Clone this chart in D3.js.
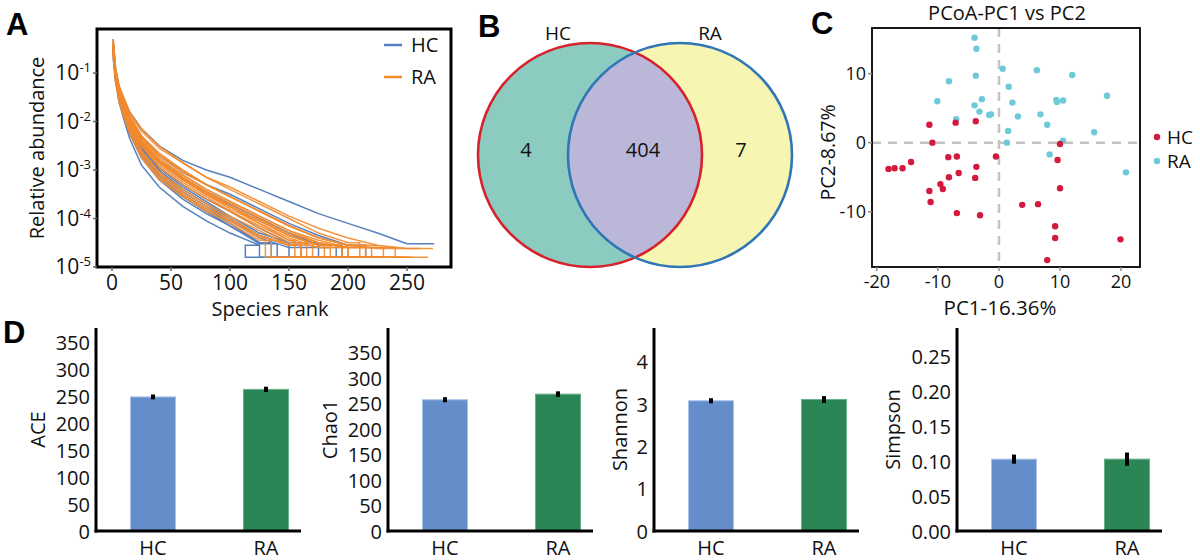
<!DOCTYPE html>
<html>
<head>
<meta charset="utf-8">
<script src="https://cdn.jsdelivr.net/npm/d3@7"></script>
<style>
  body { margin: 0; background: #fff; }
  text { font-family: "Open Sans", sans-serif; fill: #111; }
  .plabel { font-family: "Liberation Sans", Arial, sans-serif; font-weight: bold; font-size: 31px; fill: #000; }
</style>
</head>
<body>
<svg id="fig" width="1200" height="560"></svg>
<script>
// ---- A: rank abundance
// log10 relative abundance at each rank of rankGrid; then flat to the drop rank,
// down to the floor level and flat to the end rank
const rankGrid = [1, 3, 6, 10, 15, 25, 40, 60, 80, 100, 125, 150, 175, 200, 225, 250];
const floorLog = -4.8;
const hcCurves = [
  [-0.45, -1.0, -1.3, -1.55, -1.8, -2.15, -2.5, -2.8, -3.0, -3.15, -3.4, -3.65, -3.9, -4.1, -4.3, -4.52],
  [-0.5, -1.15, -1.6, -1.95, -2.35, -2.9, -3.35, -3.75, -4.05, -4.3, -4.55],
  [-0.4, -1.1, -1.5, -1.85, -2.25, -2.75, -3.2, -3.6, -3.9, -4.15, -4.5],
  [-0.55, -1.05, -1.4, -1.7, -2.0, -2.4, -2.8, -3.15, -3.45, -3.7, -4.0, -4.3, -4.55],
  [-0.6, -1.1, -1.45, -1.75, -2.1, -2.55, -3.0, -3.4, -3.7, -4.0, -4.35, -4.55],
  [-0.3, -0.9, -1.3, -1.6, -1.9, -2.3, -2.7, -3.05, -3.3, -3.5, -3.8, -4.1, -4.35, -4.55],
  [-0.5, -1.0, -1.35, -1.7, -2.05, -2.5, -2.95, -3.35, -3.65, -3.95, -4.3, -4.5],
  [-0.45, -1.1, -1.5, -1.85, -2.2, -2.7, -3.15, -3.55, -3.85, -4.15, -4.52],
  [-0.7, -1.15, -1.5, -1.8, -2.1, -2.55, -2.95, -3.3, -3.6, -3.85, -4.2, -4.5],
  [-0.4, -0.95, -1.35, -1.7, -2.05, -2.6, -3.05, -3.45, -3.75, -4.05, -4.4, -4.6],
  [-0.55, -1.1, -1.5, -1.85, -2.2, -2.65, -3.1, -3.5, -3.8, -4.1, -4.5],
  [-0.5, -1.0, -1.4, -1.7, -2.0, -2.45, -2.85, -3.2, -3.45, -3.7, -4.0, -4.3, -4.55]
];
const hcDrops = [273, 113, 135, 190, 160, 215, 150, 140, 175, 185, 125, 195];
const hcEnds = [273, 195, 170, 225, 200, 230, 205, 150, 190, 185, 135, 225];
const raCurves = [
  [-0.3, -0.95, -1.3, -1.55, -1.85, -2.2, -2.55, -2.85, -3.15, -3.35, -3.65, -3.95, -4.2, -4.4, -4.55, -4.62],
  [-0.45, -1.0, -1.35, -1.65, -1.95, -2.35, -2.75, -3.1, -3.4, -3.65, -3.95, -4.25, -4.45, -4.6],
  [-0.5, -1.05, -1.4, -1.7, -2.05, -2.5, -2.95, -3.3, -3.6, -3.85, -4.15, -4.45, -4.6],
  [-0.4, -0.9, -1.25, -1.5, -1.8, -2.15, -2.5, -2.85, -3.15, -3.4, -3.7, -4.0, -4.3, -4.5],
  [-0.55, -1.1, -1.5, -1.8, -2.15, -2.65, -3.1, -3.5, -3.8, -4.05, -4.35, -4.55],
  [-0.6, -1.05, -1.4, -1.7, -2.0, -2.45, -2.85, -3.2, -3.5, -3.75, -4.05, -4.35, -4.55],
  [-0.35, -1.0, -1.35, -1.65, -1.95, -2.35, -2.7, -3.05, -3.3, -3.55, -3.85, -4.15, -4.4, -4.55],
  [-0.5, -1.0, -1.4, -1.75, -2.1, -2.6, -3.05, -3.4, -3.7, -3.95, -4.25, -4.55],
  [-0.45, -1.1, -1.45, -1.75, -2.05, -2.5, -2.85, -3.2, -3.5, -3.75, -4.05, -4.35, -4.55],
  [-0.4, -0.95, -1.3, -1.6, -1.9, -2.3, -2.7, -3.0, -3.3, -3.55, -3.85, -4.15, -4.4, -4.55],
  [-0.65, -1.2, -1.6, -1.9, -2.25, -2.75, -3.2, -3.55, -3.85, -4.1, -4.45],
  [-0.5, -1.05, -1.4, -1.7, -2.05, -2.5, -2.9, -3.25, -3.55, -3.85, -4.2, -4.5],
  [-0.55, -1.0, -1.35, -1.65, -1.95, -2.4, -2.8, -3.15, -3.45, -3.7, -4.0, -4.3, -4.5, -4.6],
  [-0.3, -0.9, -1.3, -1.6, -1.95, -2.4, -2.8, -3.15, -3.5, -3.8, -4.1, -4.45],
  [-0.45, -1.05, -1.5, -1.85, -2.2, -2.7, -3.15, -3.5, -3.8, -4.05, -4.4],
  [-0.5, -1.0, -1.35, -1.65, -2.0, -2.45, -2.85, -3.2, -3.5, -3.75, -4.05, -4.35, -4.55],
  [-0.4, -1.0, -1.4, -1.7, -2.0, -2.45, -2.8, -3.15, -3.45, -3.75, -4.1, -4.4, -4.6],
  [-0.6, -1.1, -1.45, -1.75, -2.1, -2.6, -3.05, -3.45, -3.75, -4.0, -4.35, -4.55],
  [-0.35, -0.95, -1.3, -1.6, -1.9, -2.3, -2.65, -3.0, -3.3, -3.55, -3.85, -4.15, -4.4, -4.55, -4.62],
  [-0.5, -1.05, -1.4, -1.7, -2.0, -2.4, -2.8, -3.1, -3.4, -3.65, -3.95, -4.25, -4.5, -4.6]
];
const raDrops = [272, 240, 200, 210, 165, 195, 215, 160, 185, 225, 135, 170, 230, 155, 130, 180, 200, 160, 260, 220];
const raEnds = [272, 268, 245, 230, 228, 225, 245, 210, 200, 225, 185, 235, 250, 220, 175, 195, 240, 165, 260, 255];
const rankTicks = [0, 50, 100, 150, 200, 250];
const abundTicks = [-1, -2, -3, -4, -5];

// ---- B: Venn
const vennSets = ["HC", "RA"];
const vennCounts = [4, 404, 7]; // HC only, shared, RA only

// ---- C: PCoA
const hcPC1 = [-11.4, -7.1, -3.8, -10.9, -0.5, -8.3, -6.9, -3.7, -18.1, -17.1, -15.8, -14.4, -8.2, -6.6, -3.9, -9.6, -9.2, -11.4, -11.2, -6.9, -3.1, 3.8, 6.4, 10.0, 9.6, 10.0, 9.2, 9.2, 7.9, 19.9];
const hcPC2 = [2.6, 2.9, 3.1, 0.0, -2.0, -2.1, -2.0, -3.5, -3.8, -3.7, -3.7, -2.8, -5.0, -4.4, -5.1, -6.0, -6.7, -7.0, -8.6, -10.2, -10.5, -9.0, -8.9, -0.2, -2.5, -6.6, -12.1, -13.8, -17.0, -14.0];
const raPC1 = [-4.0, -3.7, -3.8, -8.2, -10.1, -2.8, -4.0, -3.2, -7.0, -1.6, -1.3, 0.6, 1.6, 2.2, 3.1, 1.5, 1.3, 6.2, 12.0, 6.8, 7.9, 9.4, 9.5, 10.5, 17.7, 15.6, 10.5, 8.3, 20.8];
const raPC2 = [15.2, 13.6, 9.7, 8.9, 6.0, 6.3, 5.4, 4.5, 3.4, 4.0, 4.1, 10.7, 8.1, 5.8, 3.8, 1.7, 0.0, 10.5, 9.8, 4.1, 2.6, 6.2, 5.9, 6.1, 6.8, 1.5, 0.3, -1.7, -4.3];
const pcTicks = [-20, -10, 0, 10, 20];
const pc2Ticks = [-10, 0, 10];

// ---- D: alpha diversity
const groups = ["HC", "RA"];
const alphaNames = ["ACE", "Chao1", "Shannon", "Simpson"];
const alphaMeans = [[249, 263], [258, 269], [3.08, 3.11], [0.103, 0.103]];
const alphaErrs = [[4.5, 5], [5, 5.5], [0.06, 0.08], [0.0065, 0.0095]];
const alphaMax = [377, 399, 4.8, 0.291];
const alphaTicks = [
  [0, 50, 100, 150, 200, 250, 300, 350],
  [0, 50, 100, 150, 200, 250, 300, 350],
  [0, 1, 2, 3, 4],
  [0, 0.05, 0.10, 0.15, 0.20, 0.25]
];

const blue = "#5580bf", orange = "#f38a2c";
const svg = d3.select("#fig");

// ================= Panel A =================
(function () {
  const L = 97, R = 451, T = 29, B = 267;
  const x = d3.scaleLinear().domain([-12.7, 287.3]).range([L, R]);
  const y = d3.scaleLog().domain([1e-5, 0.81]).range([B, T]);
  const g = svg.append("g");
  g.append("clipPath").attr("id", "clipA").append("rect")
    .attr("x", L).attr("y", T).attr("width", R - L).attr("height", B - T);

  const line = d3.line().x(d => x(d[0])).y(d => y(Math.pow(10, d[1])));
  const pts = (vals, drop, end) => {
    const p = vals.map((v, i) => [rankGrid[i], v]);
    const last = vals[vals.length - 1];
    p.push([drop, last]);
    if (end > drop) { p.push([drop, floorLog]); p.push([end, floorLog]); }
    return p;
  };
  const curves = g.append("g").attr("clip-path", "url(#clipA)");
  curves.selectAll("path.hc").data(hcCurves).enter().append("path")
    .attr("class", "hc").attr("d", (d, i) => line(pts(d, hcDrops[i], hcEnds[i])))
    .attr("fill", "none").attr("stroke", blue).attr("stroke-width", 1.5);
  curves.selectAll("path.ra").data(raCurves).enter().append("path")
    .attr("class", "ra").attr("d", (d, i) => line(pts(d, raDrops[i], raEnds[i])))
    .attr("fill", "none").attr("stroke", orange).attr("stroke-width", 1.5).attr("stroke-opacity", 0.9);

  // frame
  g.append("rect").attr("x", L).attr("y", T).attr("width", R - L).attr("height", B - T)
    .attr("fill", "none").attr("stroke", "#000").attr("stroke-width", 3);

  // y ticks
  const yt = g.selectAll("g.yt").data(abundTicks).enter().append("g").attr("class", "yt");
  yt.append("line").attr("x1", L - 4).attr("x2", L).attr("y1", d => y(Math.pow(10, d))).attr("y2", d => y(Math.pow(10, d)))
    .attr("stroke", "#666").attr("stroke-width", 1.5);
  const lab = yt.append("text").attr("text-anchor", "end")
    .attr("x", L - 6).attr("y", d => y(Math.pow(10, d)) + 7).style("font-size", "21px");
  lab.append("tspan").text("10");
  lab.append("tspan").attr("dy", -8).style("font-size", "13px").text(d => "-" + Math.abs(d));

  // x ticks
  const xt = g.selectAll("g.xt").data(rankTicks).enter().append("g").attr("class", "xt");
  xt.append("line").attr("x1", d => x(d)).attr("x2", d => x(d)).attr("y1", B).attr("y2", B + 4)
    .attr("stroke", "#666").attr("stroke-width", 1.5);
  xt.append("text").attr("text-anchor", "middle").attr("x", d => x(d)).attr("y", B + 23)
    .style("font-size", "21px").text(d => d);

  g.append("text").attr("text-anchor", "middle").attr("x", (L + R) / 2 - 4).attr("y", 316)
    .style("font-size", "20px").text("Species rank");
  g.append("text").attr("text-anchor", "middle")
    .attr("transform", `translate(44,${(T + B) / 2}) rotate(-90)`)
    .style("font-size", "20px").text("Relative abundance");

  // legend
  const leg = g.selectAll("g.leg").data([["HC", blue], ["RA", orange]]).enter().append("g")
    .attr("transform", (d, i) => `translate(384,${45 + i * 32})`);
  leg.append("line").attr("x1", 0).attr("x2", 18).attr("stroke", d => d[1]).attr("stroke-width", 2.5);
  leg.append("text").attr("x", 27).attr("y", 7).style("font-size", "20px").text(d => d[0]);

  svg.append("text").attr("class", "plabel").attr("x", 6).attr("y", 35).text("A");
})();

// ================= Panel B =================
(function () {
  const g = svg.append("g");
  const r = 112, cy = 155, cx = [590, 680];
  g.append("clipPath").attr("id", "clipL").append("circle").attr("cx", cx[0]).attr("cy", cy).attr("r", r);
  g.append("circle").attr("cx", cx[0]).attr("cy", cy).attr("r", r).attr("fill", "#8ccbbf");
  g.append("circle").attr("cx", cx[1]).attr("cy", cy).attr("r", r).attr("fill", "#f7f5b2");
  g.append("circle").attr("cx", cx[1]).attr("cy", cy).attr("r", r).attr("fill", "#bab7d8").attr("clip-path", "url(#clipL)");
  g.append("circle").attr("cx", cx[0]).attr("cy", cy).attr("r", r).attr("fill", "none").attr("stroke", "#d7222d").attr("stroke-width", 2.6);
  g.append("circle").attr("cx", cx[1]).attr("cy", cy).attr("r", r).attr("fill", "none").attr("stroke", "#2f76b6").attr("stroke-width", 2.6);

  g.selectAll("text.set").data(vennSets).enter().append("text")
    .attr("text-anchor", "middle").attr("x", (d, i) => [558, 710][i]).attr("y", 40)
    .style("font-size", "19px").text(d => d);
  g.selectAll("text.cnt").data(vennCounts).enter().append("text")
    .attr("text-anchor", "middle").attr("x", (d, i) => [526, 643, 741][i]).attr("y", 157)
    .style("font-size", "20px").text(d => d);

  svg.append("text").attr("class", "plabel").attr("x", 478).attr("y", 37).text("B");
})();

// ================= Panel C =================
(function () {
  const L = 872, R = 1140, T = 28, B = 267;
  const x = d3.scaleLinear().domain([-20.8, 23.1]).range([L, R]);
  const y = d3.scaleLinear().domain([-18.0, 16.6]).range([B, T]);
  const g = svg.append("g");

  g.append("line").attr("x1", x(0)).attr("x2", x(0)).attr("y1", T).attr("y2", B)
    .attr("stroke", "#c4c4c4").attr("stroke-width", 2.5).attr("stroke-dasharray", "9,7");
  g.append("line").attr("x1", L).attr("x2", R).attr("y1", y(0)).attr("y2", y(0))
    .attr("stroke", "#c4c4c4").attr("stroke-width", 2.5).attr("stroke-dasharray", "9,7");

  const hc = hcPC1.map((v, i) => [v, hcPC2[i]]);
  const ra = raPC1.map((v, i) => [v, raPC2[i]]);
  g.selectAll("circle.ra").data(ra).enter().append("circle")
    .attr("cx", d => x(d[0])).attr("cy", d => y(d[1])).attr("r", 3.2).attr("fill", "#6dcad8");
  g.selectAll("circle.hc").data(hc).enter().append("circle")
    .attr("cx", d => x(d[0])).attr("cy", d => y(d[1])).attr("r", 3.2).attr("fill", "#d4183e");

  g.append("rect").attr("x", L).attr("y", T).attr("width", R - L).attr("height", B - T)
    .attr("fill", "none").attr("stroke", "#000").attr("stroke-width", 1.8);

  const xt = g.selectAll("g.xt").data(pcTicks).enter().append("g");
  xt.append("line").attr("x1", d => x(d)).attr("x2", d => x(d)).attr("y1", B).attr("y2", B + 4).attr("stroke", "#888").attr("stroke-width", 1.5);
  xt.append("text").attr("text-anchor", "middle").attr("x", d => x(d)).attr("y", B + 21).style("font-size", "18px").text(d => d);
  const yt = g.selectAll("g.yt").data(pc2Ticks).enter().append("g");
  yt.append("line").attr("x1", L - 4).attr("x2", L).attr("y1", d => y(d)).attr("y2", d => y(d)).attr("stroke", "#888").attr("stroke-width", 1.5);
  yt.append("text").attr("text-anchor", "end").attr("x", L - 6).attr("y", d => y(d) + 6).style("font-size", "18px").text(d => d);

  g.append("text").attr("text-anchor", "middle").attr("x", (L + R) / 2 - 6).attr("y", 315).style("font-size", "20.5px").text("PC1-16.36%");
  g.append("text").attr("text-anchor", "middle").attr("transform", `translate(835,${(T + B) / 2 + 5}) rotate(-90)`)
    .style("font-size", "19.5px").text("PC2-8.67%");
  g.append("text").attr("text-anchor", "middle").attr("x", 1007).attr("y", 20).style("font-size", "20px").text("PCoA-PC1 vs PC2");

  const leg = g.selectAll("g.leg").data([["HC", "#d4183e"], ["RA", "#6dcad8"]]).enter().append("g")
    .attr("transform", (d, i) => `translate(1157,${137 + i * 24})`);
  leg.append("circle").attr("r", 3.2).attr("fill", d => d[1]);
  leg.append("text").attr("x", 10).attr("y", 7).style("font-size", "19px").text(d => d[0]);

  svg.append("text").attr("class", "plabel").attr("x", 811).attr("y", 34).text("C");
})();

// ================= Panel D =================
const axisXs = [96, 388, 654, 957];
const yLabelOff = [58, 58, 34, 64];
alphaNames.forEach((name, k) => {
  const ax = axisXs[k], T = 328, B = 531;
  const y = d3.scaleLinear().domain([0, alphaMax[k]]).range([B, T]);
  const x = d3.scalePoint().domain(groups).range([ax + 57, ax + 170]);
  const bw = 45;
  const g = svg.append("g");
  const data = groups.map((gname, i) => ({ g: gname, m: alphaMeans[k][i], e: alphaErrs[k][i] }));

  g.selectAll("rect").data(data).enter().append("rect")
    .attr("x", d => x(d.g) - bw / 2).attr("width", bw)
    .attr("y", d => y(d.m)).attr("height", d => B - y(d.m))
    .attr("fill", (d, i) => i === 0 ? "#658dca" : "#2a8654")
    .attr("stroke", (d, i) => i === 0 ? "#a9c3ec" : "#66b08a").attr("stroke-width", 1);
  g.selectAll("line.err").data(data).enter().append("line")
    .attr("x1", d => x(d.g)).attr("x2", d => x(d.g))
    .attr("y1", d => y(d.m - d.e)).attr("y2", d => y(d.m + d.e))
    .attr("stroke", "#000").attr("stroke-width", 4);

  const fmt = k === 3 ? d3.format(".2f") : d3.format("d");
  const yAxis = g.append("g").attr("transform", `translate(${ax},0)`)
    .call(d3.axisLeft(y).tickValues(alphaTicks[k]).tickSize(0).tickPadding(6).tickFormat(fmt));
  yAxis.select(".domain").attr("stroke", "#000").attr("stroke-width", 3).attr("d", `M0,${T}V${B + 1.5}`);
  yAxis.selectAll("text").style("font-family", '"Open Sans", sans-serif').style("font-size", "20px").attr("fill", "#111").attr("dy", "0.35em");

  g.append("line").attr("x1", ax - 1.5).attr("x2", ax + 205).attr("y1", B).attr("y2", B)
    .attr("stroke", "#000").attr("stroke-width", 3);
  g.selectAll("text.xl").data(groups).enter().append("text")
    .attr("text-anchor", "middle").attr("x", d => x(d)).attr("y", 555)
    .style("font-size", "20px").text(d => d);
  g.append("text").attr("text-anchor", "middle")
    .attr("transform", `translate(${ax - yLabelOff[k] + 7},${(T + B) / 2}) rotate(-90)`)
    .style("font-size", "20px").text(name);
});
svg.append("text").attr("class", "plabel").attr("x", 3).attr("y", 343).text("D");
</script>
</body>
</html>
